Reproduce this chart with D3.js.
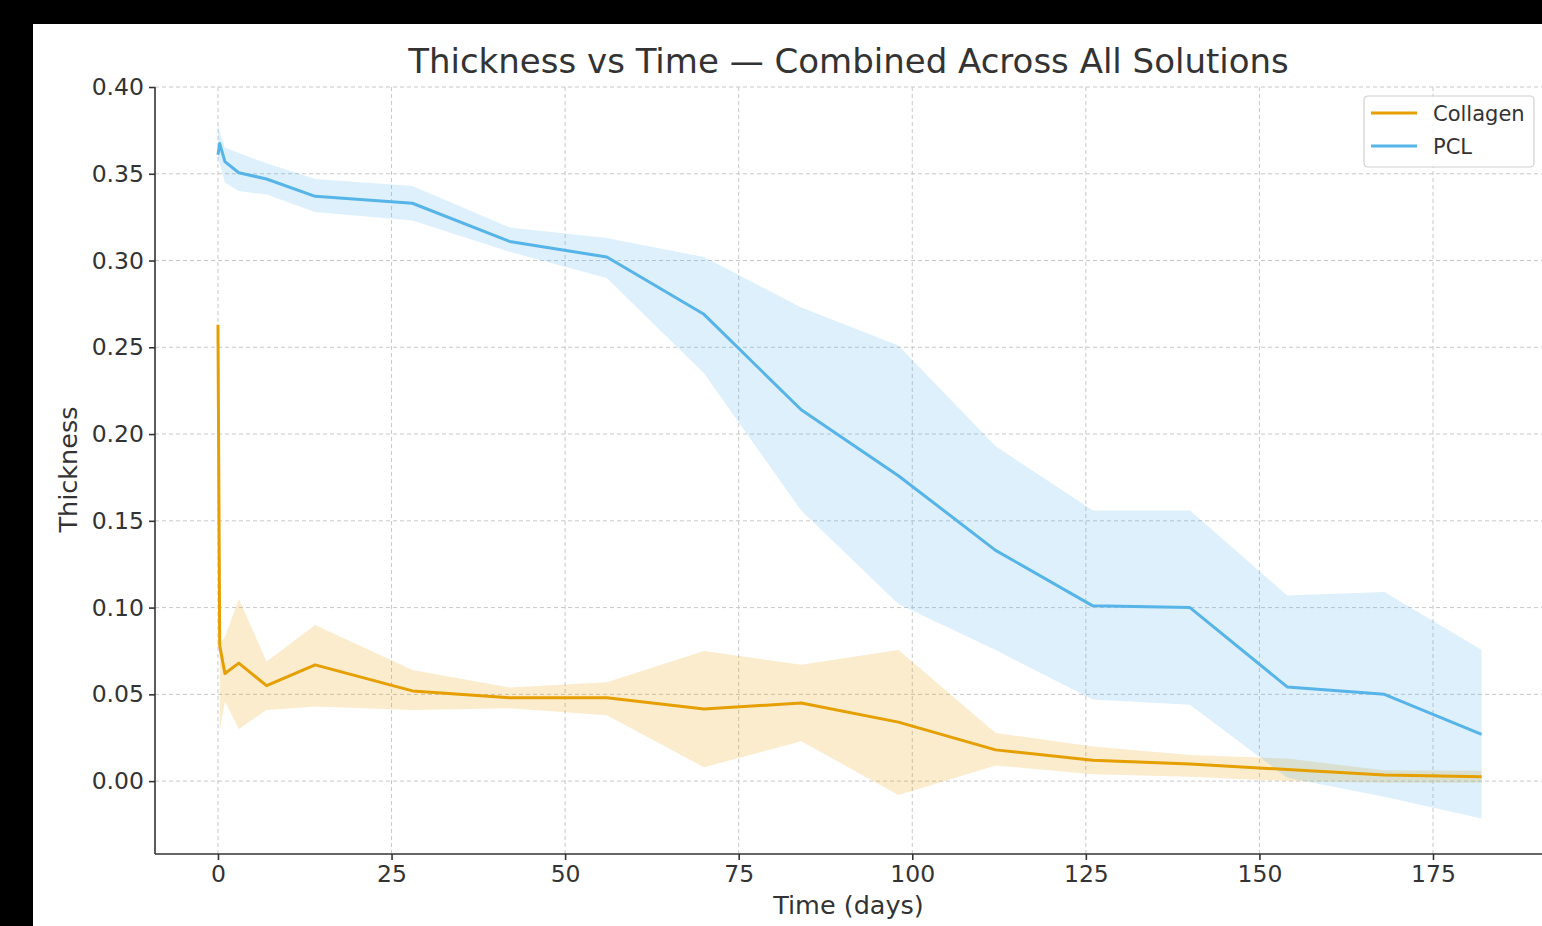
<!DOCTYPE html>
<html>
<head>
<meta charset="utf-8">
<script src="https://cdn.jsdelivr.net/npm/d3@7"></script>
<style>
  body { margin: 0; background: #000; }
  text { font-family: "DejaVu Sans", sans-serif; fill: #333; }
  .grid line { stroke: #c8c8c8; stroke-dasharray: 4,3; stroke-width: 1; }
  .axis path, .axis line { stroke: #333; stroke-width: 1.6; }
</style>
</head>
<body>
<div id="chart"></div>
<script>
var days = [0, 0.25, 1, 3, 7, 14, 28, 42, 56, 70, 84, 98, 112, 126, 140, 154, 168, 182];

var collagenMean = [0.263, 0.078, 0.062, 0.068, 0.055, 0.067, 0.052, 0.048, 0.048, 0.0415, 0.045, 0.034, 0.018, 0.012, 0.0098, 0.0067, 0.0035, 0.0025];
var collagenLo   = [null, 0.029, 0.046, 0.030, 0.041, 0.043, 0.041, 0.042, 0.038, 0.008, 0.023, -0.008, 0.009, 0.004, 0.0025, 0.000, -0.001, -0.001];
var collagenHi   = [null, 0.079, 0.083, 0.105, 0.069, 0.090, 0.064, 0.054, 0.057, 0.075, 0.067, 0.0755, 0.0277, 0.020, 0.015, 0.013, 0.0063, 0.006];

var pclMean = [0.361, 0.3675, 0.357, 0.3506, 0.347, 0.337, 0.333, 0.311, 0.302, 0.269, 0.214, 0.176, 0.133, 0.101, 0.100, 0.0543, 0.050, 0.027];
var pclLo   = [0.358, 0.356, 0.345, 0.340, 0.338, 0.328, 0.323, 0.305, 0.290, 0.235, 0.156, 0.102, 0.0755, 0.047, 0.044, 0.002, -0.009, -0.0215];
var pclHi   = [0.379, 0.374, 0.365, 0.362, 0.356, 0.347, 0.343, 0.319, 0.313, 0.302, 0.273, 0.251, 0.193, 0.156, 0.156, 0.107, 0.109, 0.0755];

var xTicks = [0, 25, 50, 75, 100, 125, 150, 175];
var yTicks = [0, 0.05, 0.10, 0.15, 0.20, 0.25, 0.30, 0.35, 0.40];

var series = [
  {name: "Collagen", color: "#E69F00", mean: collagenMean, lo: collagenLo, hi: collagenHi},
  {name: "PCL", color: "#56B4E9", mean: pclMean, lo: pclLo, hi: pclHi}
];

var width = 1542, height = 926;
var padL = 155, padR = 1542, padT = 87, padB = 854;

var x = d3.scaleLinear().domain([-9.07, 190.7]).range([padL, padR]);
var y = d3.scaleLinear().domain([-0.042, 0.40]).range([padB, padT]);

var svg = d3.select("#chart").append("svg")
  .attr("width", width)
  .attr("height", height);

svg.append("rect").attr("width", width).attr("height", height).attr("fill", "#000");
svg.append("rect").attr("x", 33).attr("y", 24)
  .attr("width", width - 33).attr("height", height - 24).attr("fill", "#fff");

// grid
var grid = svg.append("g").attr("class", "grid");
grid.selectAll(".gx").data(xTicks).enter().append("line")
  .attr("x1", function(d) { return x(d); }).attr("x2", function(d) { return x(d); })
  .attr("y1", padT).attr("y2", padB);
grid.selectAll(".gy").data(yTicks).enter().append("line")
  .attr("y1", function(d) { return y(d); }).attr("y2", function(d) { return y(d); })
  .attr("x1", padL).attr("x2", padR);

// bands + lines
series.forEach(function(s) {
  var rows = days.map(function(t, i) { return {t: t, m: s.mean[i], lo: s.lo[i], hi: s.hi[i]}; });
  var area = d3.area()
    .defined(function(d) { return d.lo != null; })
    .x(function(d) { return x(d.t); })
    .y0(function(d) { return y(d.lo); })
    .y1(function(d) { return y(d.hi); });
  svg.append("path").datum(rows)
    .attr("d", area)
    .attr("fill", s.color)
    .attr("fill-opacity", 0.2);
});
series.forEach(function(s) {
  var rows = days.map(function(t, i) { return {t: t, m: s.mean[i]}; });
  var line = d3.line()
    .x(function(d) { return x(d.t); })
    .y(function(d) { return y(d.m); });
  svg.append("path").datum(rows)
    .attr("d", line)
    .attr("fill", "none")
    .attr("stroke", s.color)
    .attr("stroke-width", 3)
    .attr("stroke-linejoin", "round");
});

// axes
var xAxis = d3.axisBottom(x).tickValues(xTicks).tickSize(6).tickPadding(5).tickSizeOuter(0);
var yAxis = d3.axisLeft(y).tickValues(yTicks).tickSize(6).tickPadding(5).tickSizeOuter(0)
  .tickFormat(d3.format(".2f"));

var gx = svg.append("g").attr("class", "axis")
  .attr("transform", "translate(0," + padB + ")")
  .call(xAxis);
gx.select(".domain").attr("d", "M" + padL + ",0H" + padR);
gx.selectAll("text").style("font-size", "23.5px").attr("fill", "#333");

var gy = svg.append("g").attr("class", "axis")
  .attr("transform", "translate(" + padL + ",0)")
  .call(yAxis);
gy.select(".domain").attr("d", "M0," + padT + "V" + padB);
gy.selectAll("text").style("font-size", "23.5px").attr("fill", "#333");

// titles
svg.append("text")
  .attr("x", (padL + padR) / 2).attr("y", 73)
  .attr("text-anchor", "middle")
  .style("font-size", "34px")
  .text("Thickness vs Time \u2014 Combined Across All Solutions");

svg.append("text")
  .attr("x", (padL + padR) / 2).attr("y", 914)
  .attr("text-anchor", "middle")
  .style("font-size", "25.5px")
  .text("Time (days)");

svg.append("text")
  .attr("transform", "translate(77," + ((padT + padB) / 2 - 1) + ") rotate(-90)")
  .attr("text-anchor", "middle")
  .style("font-size", "25.5px")
  .text("Thickness");

// legend
var lg = svg.append("g").attr("transform", "translate(1364,96)");
lg.append("rect")
  .attr("width", 170).attr("height", 71)
  .attr("rx", 4)
  .attr("fill", "#fff").attr("fill-opacity", 0.8)
  .attr("stroke", "#d0d0d0").attr("stroke-width", 1.2);
series.forEach(function(s, i) {
  var yy = 17 + i * 33;
  lg.append("line")
    .attr("x1", 7).attr("x2", 53).attr("y1", yy).attr("y2", yy)
    .attr("stroke", s.color).attr("stroke-width", 3);
  lg.append("text")
    .attr("x", 69).attr("y", yy + 7.5)
    .style("font-size", "21px")
    .text(s.name);
});
</script>
</body>
</html>
